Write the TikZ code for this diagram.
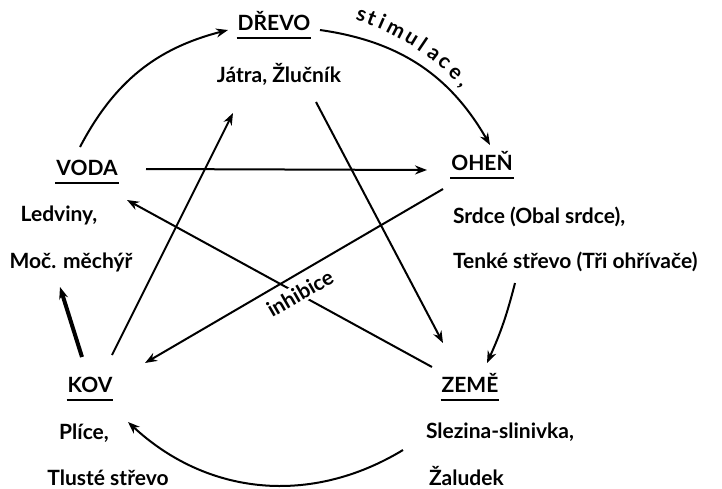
\documentclass[tikz,border=0pt]{standalone}
\usepackage{fontspec}
\setmainfont{Lato}
\usetikzlibrary{arrows.meta,calc}
\begin{document}
\begin{tikzpicture}[x=0.5pt, y=-0.5pt, line width=1pt, >={Stealth[length=6pt,width=4.5pt]},
  font=\fontsize{10.5pt}{12pt}\selectfont\bfseries,
  prvek/.style={inner sep=0pt, anchor=base},
  organ/.style={inner sep=0pt, anchor=base},
  organl/.style={inner sep=0pt, anchor=base west}]
  \useasboundingbox (0,0) rectangle (722,488);
  % pět prvků
  \node[prvek] (drevo) at (274,30) {DŘEVO};
  \node[prvek] (ohen) at (482,170) {OHEŇ};
  \node[prvek] (zeme) at (470,392) {ZEMĚ};
  \node[prvek] (kov) at (90,392) {KOV};
  \node[prvek] (voda) at (87,175) {VODA};
  \foreach \n in {drevo,ohen,zeme,kov,voda}
    \draw ($(\n.base west)+(0,8)$) -- ($(\n.base east)+(0,8)$);
  % orgány
  \node[organ] (drevo1) at (279,82) {Játra, Žlučník};
  \node[organl] (ohen1) at (452,223) {Srdce (Obal srdce),};
  \node[organl] (ohen2) at (452,268) {Tenké střevo (Tři ohřívače)};
  \node[organl] (zeme1) at (425,438) {Slezina-slinivka,};
  \node[organl] (zeme2) at (428,485) {Žaludek};
  \node[organ] (kov1) at (84,439) {Plíce,};
  \node[organ] (kov2) at (108,485) {Tlusté střevo};
  \node[organ] (voda1) at (59,221) {Ledviny,};
  \node[organ] (voda2) at (71,268) {Moč. měchýř};
  % stimulace (kruh)
  \draw[->] ($(voda.base)+(-7,-28)$) to[bend left=24] ($(drevo.base)+(-46,0)$);
  \draw[->] ($(drevo.base)+(46,0)$) to[bend left=26] ($(ohen.base)+(8,-25)$);
  \draw[->] ($(ohen2.base west)+(63,15)$) to[bend left=5] ($(zeme.base)+(17,-29)$);
  \draw[->] ($(zeme1.base west)+(-22,12)$) to[bend left=37] ($(kov1.base)+(44,-17)$);
  \draw[->, line width=2pt] ($(kov.base)+(-8,-35)$) -- ($(voda2.base)+(-11,19)$);
  \coordinate (stred) at (280,255);
  \foreach \ch/\a in {s/71.2, t/68.8, i/66.3, m/62.8, u/58.7, l/55.9, a/52.6, c/49.5, e/46.0, {,}/43.2}
    \node[inner sep=0pt, anchor=base, rotate=\a-90] at ($(stred)+(-\a:247)$) {\ch};
  % inhibice (hvězda)
  \draw[->] ($(voda.base)+(59,-6)$) -- ($(ohen.base)+(-55,0)$);
  \draw[->] ($(kov.base)+(22,-37)$) -- ($(drevo1.base)+(-46,31)$);
  \draw[->] ($(drevo1.base)+(37,20)$) -- ($(zeme.base)+(-27,-49)$);
  \draw[->] ($(zeme.base)+(-38,-25)$) -- ($(voda.base)+(40,25)$);
  \node[fill=white, inner sep=1pt, rotate=30] (inh) at (300,293) {inhibice};
  \draw[->] ($(ohen.base)+(-39,19)$) -- ($(kov.base)+(55,-29)$);
\end{tikzpicture}
\end{document}
